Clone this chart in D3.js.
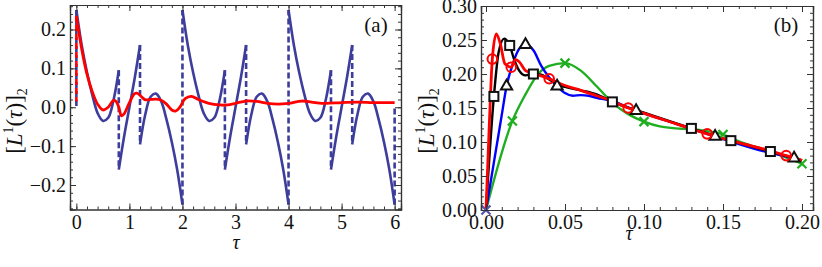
<!DOCTYPE html>
<html>
<head>
<meta charset="utf-8">
<script src="https://cdn.jsdelivr.net/npm/d3@7"></script>
<style>
  body { margin: 0; background: #fff; }
  svg { display: block; }
  svg text { font-family: "Liberation Serif", "DejaVu Serif", serif !important; fill: #111; }
</style>
</head>
<body>
<svg width="822" height="267"></svg>
<script>
// ---- panel (a) data ----
// solid pieces of the blue curve, [tau, value]
var blueSolid = [
  [[0,0.25],[0.1,0.16],[0.2,0.09],[0.3,0.032],[0.4,-0.015],[0.5,-0.035],[0.6,-0.027],[0.7,0.018],[0.8,0.095]],
  [[0.8,-0.16],[0.9,-0.075],[1.0,0.0],[1.1,0.075],[1.2,0.16]],
  [[1.2,-0.095],[1.3,-0.018],[1.4,0.027],[1.5,0.035],[1.6,0.015],[1.7,-0.032],[1.8,-0.09],[1.9,-0.16],[2.0,-0.25]],
  [[2,0.25],[2.1,0.16],[2.2,0.09],[2.3,0.032],[2.4,-0.015],[2.5,-0.035],[2.6,-0.027],[2.7,0.018],[2.8,0.095]],
  [[2.8,-0.16],[2.9,-0.075],[3.0,0.0],[3.1,0.075],[3.2,0.16]],
  [[3.2,-0.095],[3.3,-0.018],[3.4,0.027],[3.5,0.035],[3.6,0.015],[3.7,-0.032],[3.8,-0.09],[3.9,-0.16],[4.0,-0.25]],
  [[4,0.25],[4.1,0.16],[4.2,0.09],[4.3,0.032],[4.4,-0.015],[4.5,-0.035],[4.6,-0.027],[4.7,0.018],[4.8,0.095]],
  [[4.8,-0.16],[4.9,-0.075],[5.0,0.0],[5.1,0.075],[5.2,0.16]],
  [[5.2,-0.095],[5.3,-0.018],[5.4,0.027],[5.5,0.035],[5.6,0.015],[5.7,-0.032],[5.8,-0.09],[5.9,-0.16],[6.0,-0.25]]
]
// dashed jumps of the blue curve: [tau, from, to]
var blueJumps = [[0,0.25,0.0],[0.8,0.095,-0.16],[1.2,0.16,-0.095],[2,-0.25,0.25],[2.8,0.095,-0.16],
  [3.2,0.16,-0.095],[4,-0.25,0.25],[4.8,0.095,-0.16],[5.2,0.16,-0.095],[6,-0.25,0.0]]
var redTau = [0,0.1,0.2,0.3,0.4,0.5,0.6,0.7,0.75,0.8,0.85,0.9,1.0,1.1,1.15,1.25,1.3,1.4,1.5,1.6,1.7,1.8,1.87,
  1.95,2.05,2.17,2.3,2.5,2.7,2.85,3.0,3.2,3.4,3.6,3.8,4.0,4.25,4.5,4.7,5.0,5.3,5.6,6.0]
var redVal = [0.235,0.15,0.085,0.04,0.008,-0.007,0.0,0.018,0.015,0.0,-0.022,-0.017,0.012,0.035,0.036,0.024,0.019,
  0.02,0.021,0.018,0.008,-0.007,-0.01,0.0,0.022,0.028,0.02,0.01,0.006,0.006,0.01,0.016,0.015,0.01,0.008,0.01,
  0.016,0.012,0.01,0.012,0.013,0.012,0.012]
var redJump = [0,0.235,0.015]
var aXTicks = [0,1,2,3,4,5,6]
var aYTicks = [-0.2,-0.1,0.0,0.1,0.2]

// ---- panel (b) data ----
var redBTau = [0,0.002,0.004,0.0065,0.009,0.012,0.016,0.0185,0.021,0.025,0.03,0.04,0.05,0.06,0.07,0.08,0.09,0.1,0.12,0.14,0.16,0.18,0.19,0.2]
var redBVal = [0,0.12,0.222,0.259,0.245,0.215,0.21,0.221,0.218,0.205,0.201,0.193,0.183,0.176,0.168,0.16,0.15,0.142,0.127,0.112,0.099,0.087,0.08,0.073]
var blackTau = [0,0.005,0.008,0.0115,0.015,0.018,0.021,0.025,0.03,0.035,0.04,0.045,0.05,0.06,0.07,0.08,0.1,0.13,0.155,0.18,0.2]
var blackVal = [0,0.167,0.232,0.252,0.242,0.22,0.205,0.198,0.2,0.199,0.192,0.185,0.181,0.176,0.17,0.159,0.143,0.12,0.102,0.086,0.073]
var blueBTau = [0,0.005,0.01,0.013,0.017,0.021,0.025,0.03,0.035,0.04,0.045,0.05,0.055,0.06,0.065,0.07,0.08,0.095,0.12,0.145,0.17,0.195,0.2]
var blueBVal = [0,0.07,0.14,0.182,0.215,0.237,0.243,0.235,0.212,0.195,0.182,0.172,0.168,0.169,0.168,0.165,0.16,0.146,0.127,0.108,0.09,0.076,0.073]
var greenTau = [0,0.0167,0.025,0.033,0.04,0.05,0.06,0.07,0.08,0.09,0.1,0.11,0.12,0.13,0.14,0.15,0.16,0.18,0.2]
var greenVal = [0,0.131,0.17,0.2,0.212,0.216,0.205,0.182,0.158,0.141,0.13,0.123,0.12,0.119,0.116,0.111,0.101,0.086,0.068]
var squareTau = [0.005,0.015,0.03,0.08,0.13,0.155,0.18]
var squareVal = [0.167,0.242,0.2,0.159,0.12,0.102,0.086]
var circleTau = [0.004,0.016,0.04,0.09,0.14,0.19]
var circleVal = [0.222,0.21,0.193,0.15,0.112,0.08]
var triTau = [0.013,0.025,0.045,0.095,0.145,0.195]
var triVal = [0.182,0.243,0.182,0.146,0.108,0.076]
var crossTau = [0,0.0167,0.05,0.1,0.15,0.2]
var crossVal = [0,0.131,0.216,0.13,0.111,0.068]
var bXTicks = [0,0.05,0.1,0.15,0.2]
var bYTicks = [0,0.05,0.1,0.15,0.2,0.25,0.3]

var svg = d3.select("svg")
var serif = "'Liberation Serif', 'DejaVu Serif', serif"

function pairs(xs, ys){ return xs.map(function(x, i){ return [x, ys[i]] }) }

// frame with inward ticks on all four sides
function frame(g, x, y, xMaj, xMin, yMaj, yMin, xFmt, yFmt){
  var x0 = x.range()[0], x1 = x.range()[1], y0 = y.range()[0], y1 = y.range()[1]
  g.append("g").attr("transform", "translate(0," + y0 + ")")
    .call(d3.axisBottom(x).tickValues(xMin).tickSize(-3).tickFormat(""))
  g.append("g").attr("transform", "translate(0," + y0 + ")")
    .call(d3.axisBottom(x).tickValues(xMaj).tickSize(-6).tickPadding(5).tickFormat(xFmt))
  g.append("g").attr("transform", "translate(0," + y1 + ")")
    .call(d3.axisTop(x).tickValues(xMin).tickSize(-3).tickFormat(""))
  g.append("g").attr("transform", "translate(0," + y1 + ")")
    .call(d3.axisTop(x).tickValues(xMaj).tickSize(-6).tickFormat(""))
  g.append("g").attr("transform", "translate(" + x0 + ",0)")
    .call(d3.axisLeft(y).tickValues(yMin).tickSize(-3).tickFormat(""))
  g.append("g").attr("transform", "translate(" + x0 + ",0)")
    .call(d3.axisLeft(y).tickValues(yMaj).tickSize(-6).tickPadding(4).tickFormat(yFmt))
  g.append("g").attr("transform", "translate(" + x1 + ",0)")
    .call(d3.axisRight(y).tickValues(yMin).tickSize(-3).tickFormat(""))
  g.append("g").attr("transform", "translate(" + x1 + ",0)")
    .call(d3.axisRight(y).tickValues(yMaj).tickSize(-6).tickFormat(""))
  g.selectAll(".domain").attr("stroke", "#333").attr("stroke-width", 1.2)
  g.selectAll(".tick line").attr("stroke", "#333")
  g.selectAll("g").attr("font-family", null).attr("font-size", null)
  g.selectAll(".tick text").style("font-size", "20px").style("font-family", serif).attr("fill", "#111")
}

function yLabel(g, cx, cy){
  var t = g.append("text").attr("transform", "translate(" + cx + "," + cy + ") rotate(-90)")
    .attr("text-anchor", "middle").style("font-size", "23px").style("font-family", serif)
  t.append("tspan").text("[")
  t.append("tspan").style("font-style", "italic").text("L")
  t.append("tspan").style("font-size", "14px").attr("dy", -9).text("1")
  t.append("tspan").attr("dy", 9).text("(")
  t.append("tspan").style("font-style", "italic").text("τ")
  t.append("tspan").text(")]")
  t.append("tspan").style("font-size", "14px").attr("dy", 5).text("2")
}

function plain(g, x, y, size, str, italic){
  g.append("text").attr("x", x).attr("y", y).attr("text-anchor", "middle")
    .style("font-size", size + "px").style("font-family", serif)
    .style("font-style", italic ? "italic" : "normal").text(str)
}

// ---------- panel (a) ----------
var xa = d3.scaleLinear().domain([-0.12, 6.12]).range([70, 401])
var ya = d3.scaleLinear().domain([-0.263, 0.263]).range([209.5, 5])
var ga = svg.append("g")
var lineA = d3.line().x(function(d){ return xa(d[0]) }).y(function(d){ return ya(d[1]) }).curve(d3.curveCatmullRom)

ga.selectAll(".jump").data(blueJumps).enter().append("line")
  .attr("x1", function(d){ return xa(d[0]) }).attr("x2", function(d){ return xa(d[0]) })
  .attr("y1", function(d){ return ya(d[1]) }).attr("y2", function(d){ return ya(d[2]) })
  .attr("stroke", "#3d3d9c").attr("stroke-width", 2.6).attr("stroke-dasharray", "6,3")
ga.selectAll(".seg").data(blueSolid).enter().append("path")
  .attr("d", lineA).attr("fill", "none").attr("stroke", "#3d3d9c").attr("stroke-width", 2.6)
ga.append("line").attr("x1", xa(redJump[0])).attr("x2", xa(redJump[0]))
  .attr("y1", ya(redJump[1])).attr("y2", ya(redJump[2]))
  .attr("stroke", "#f00").attr("stroke-width", 2.6).attr("stroke-dasharray", "6,3")
ga.append("path").attr("d", lineA(pairs(redTau, redVal)))
  .attr("fill", "none").attr("stroke", "#f00").attr("stroke-width", 2.8)

var aMinX = d3.range(0, 31).map(function(i){ return i * 0.2 })
var aMinY = d3.range(-13, 14).map(function(i){ return i * 0.02 })
frame(ga, xa, ya, aXTicks, aMinX, aYTicks, aMinY, d3.format("d"), d3.format(".1f"))
plain(ga, 376, 32, 21, "(a)")
plain(ga, 236, 249, 20, "τ", true)
yLabel(ga, 22, 121)

// ---------- panel (b) ----------
var xb = d3.scaleLinear().domain([-0.00316, 0.20696]).range([481, 813])
var yb = d3.scaleLinear().domain([0, 0.3]).range([210, 6])
var gb = svg.append("g")
var lineB = d3.line().x(function(d){ return xb(d[0]) }).y(function(d){ return yb(d[1]) }).curve(d3.curveMonotoneX)

gb.append("path").attr("d", lineB(pairs(greenTau, greenVal))).attr("fill", "none").attr("stroke", "#1fae1f").attr("stroke-width", 2.4)
gb.append("path").attr("d", lineB(pairs(blueBTau, blueBVal))).attr("fill", "none").attr("stroke", "#0000ff").attr("stroke-width", 2.4)
gb.append("path").attr("d", lineB(pairs(blackTau, blackVal))).attr("fill", "none").attr("stroke", "#000").attr("stroke-width", 2.4)
gb.append("path").attr("d", lineB(pairs(redBTau, redBVal))).attr("fill", "none").attr("stroke", "#f00").attr("stroke-width", 2.8)

gb.selectAll(".cross").data(pairs(crossTau, crossVal)).enter().append("path")
  .attr("transform", function(d){ return "translate(" + xb(d[0]) + "," + yb(d[1]) + ")" })
  .attr("d", "M-4.5,-4.5L4.5,4.5M-4.5,4.5L4.5,-4.5")
  .attr("stroke", function(d, i){ return i === 0 ? "#5555aa" : "#1fae1f" }).attr("stroke-width", 2.2)
gb.selectAll(".sq").data(pairs(squareTau, squareVal)).enter().append("rect")
  .attr("x", function(d){ return xb(d[0]) - 4.5 }).attr("y", function(d){ return yb(d[1]) - 4.5 })
  .attr("width", 9).attr("height", 9).attr("fill", "#fff").attr("stroke", "#111").attr("stroke-width", 2)
gb.selectAll(".tri").data(pairs(triTau, triVal)).enter().append("path")
  .attr("transform", function(d){ return "translate(" + xb(d[0]) + "," + yb(d[1]) + ")" })
  .attr("d", d3.symbol().type(d3.symbolTriangle).size(55))
  .attr("fill", "#fff").attr("stroke", "#111").attr("stroke-width", 2)
gb.selectAll(".circ").data(pairs(circleTau, circleVal)).enter().append("circle")
  .attr("cx", function(d){ return xb(d[0]) }).attr("cy", function(d){ return yb(d[1]) })
  .attr("r", 4.8).attr("fill", "none").attr("stroke", "#f00").attr("stroke-width", 2)

var bMinX = d3.range(0, 21).map(function(i){ return i * 0.01 })
var bMinY = d3.range(0, 31).map(function(i){ return i * 0.01 })
frame(gb, xb, yb, bXTicks, bMinX, bYTicks, bMinY, d3.format(".2f"), d3.format(".2f"))
plain(gb, 786, 32, 21, "(b)")
plain(gb, 629, 240, 20, "τ", true)
yLabel(gb, 434, 121)
</script>
</body>
</html>
